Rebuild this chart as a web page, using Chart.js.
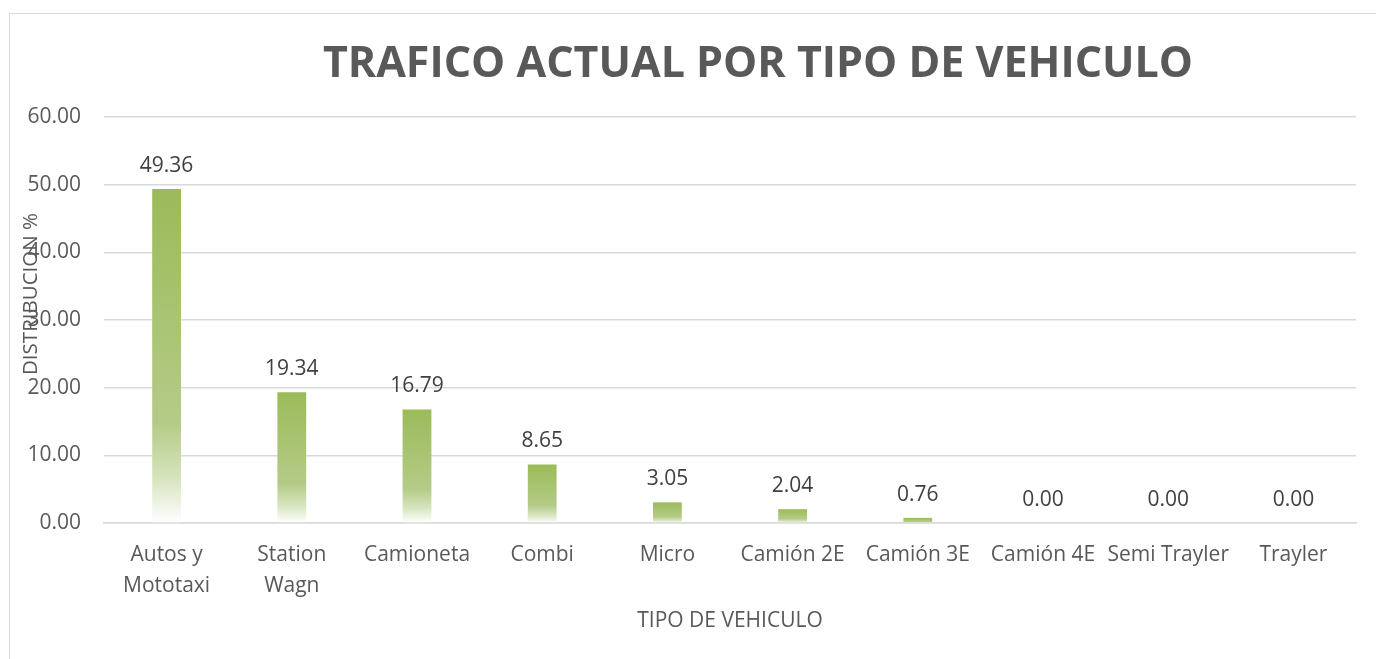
<!DOCTYPE html>
<html>
<head>
<meta charset="utf-8">
<script src="https://cdn.jsdelivr.net/npm/chart.js@4.4.1/dist/chart.umd.min.js"></script>
<style>
  html, body { margin: 0; padding: 0; background: #fff; overflow: hidden; }
  #wrap { position: relative; width: 1376px; height: 659px; }
  #frame { position: absolute; left: 9px; top: 13px; width: 1400px; height: 700px; border: 1px solid #d9d9d9; box-sizing: border-box; }
  #title { position: absolute; left: 758px; top: 33px; transform: translateX(-50%); white-space: nowrap;
           font-family: "Open Sans", sans-serif; font-weight: bold; font-size: 43px; line-height: 56px; color: #595959; }
  #ytitle { position: absolute; left: 29px; top: 294px; transform: translate(-50%, -50%) rotate(-90deg); white-space: nowrap;
            font-family: "Open Sans", sans-serif; font-size: 20.5px; color: #595959; }
  canvas { position: absolute; left: 0; top: 0; }
</style>
</head>
<body>
<div id="wrap">
  <div id="frame"></div>
  <canvas id="chart" width="1376" height="659"></canvas>
  <div id="title">TRAFICO ACTUAL POR TIPO DE VEHICULO</div>
  <div id="ytitle">DISTRIBUCION %</div>
</div>
<script>
// =================== DATA ===================
const categories = [["Autos y", "Mototaxi"], ["Station", "Wagn"], "Camioneta", "Combi", "Micro",
  "Camión 2E", "Camión 3E", "Camión 4E", "Semi Trayler", "Trayler"];
const distribution = [49.36, 19.34, 16.79, 8.65, 3.05, 2.04, 0.76, 0.00, 0.00, 0.00];
const yTicks = [0, 10, 20, 30, 40, 50, 60];

// =================== BAR GRADIENT ===================
function barFill(c) {
  const chart = c.chart;
  if (!chart.chartArea || c.type !== 'data') return '#9bbb59';
  const y = chart.scales.y;
  const top = y.getPixelForValue(c.raw);
  const bottom = y.getPixelForValue(0);
  if (bottom - top < 1) return '#9bbb59';
  const g = chart.ctx.createLinearGradient(0, top, 0, bottom);
  g.addColorStop(0, '#9bbb59');
  g.addColorStop(0.7, '#b4cb87');
  g.addColorStop(0.86, '#d5e3bc');
  g.addColorStop(1, '#ffffff');
  return g;
}

// =================== VALUE LABELS ===================
const valueLabels = {
  id: 'valueLabels',
  afterDatasetsDraw(chart) {
    const ctx = chart.ctx;
    const meta = chart.getDatasetMeta(0);
    ctx.save();
    ctx.font = '21px "Open Sans", sans-serif';
    ctx.fillStyle = '#404040';
    ctx.textAlign = 'center';
    ctx.textBaseline = 'alphabetic';
    meta.data.forEach((bar, i) => {
      ctx.fillText(distribution[i].toFixed(2), bar.x, bar.y - 17);
    });
    ctx.restore();
  }
};

// =================== CHART ===================
new Chart(document.getElementById('chart'), {
  type: 'bar',
  data: {
    labels: categories,
    datasets: [{
      label: 'DISTRIBUCION %',
      data: distribution,
      backgroundColor: barFill,
      barPercentage: 0.46,
      categoryPercentage: 0.5
    }]
  },
  options: {
    responsive: false,
    animation: false,
    layout: { padding: { left: 0, right: 20, top: 117, bottom: 0 } },
    plugins: {
      legend: { display: false },
      title: { display: false },
      tooltip: { enabled: false }
    },
    scales: {
      x: {
        grid: { display: false, drawTicks: false },
        border: { color: '#d9d9d9', width: 1.5 },
        ticks: {
          color: '#595959',
          padding: 17,
          maxRotation: 0,
          autoSkip: false,
          font: { family: 'Open Sans', size: 21, lineHeight: 1.45 }
        },
        title: {
          display: true,
          text: 'TIPO DE VEHICULO',
          color: '#595959',
          font: { family: 'Open Sans', size: 21 },
          padding: { top: 0, bottom: 25 }
        },
        afterFit(scale) { scale.height = 659 - 523; }
      },
      y: {
        min: 0,
        max: 60,
        afterBuildTicks(scale) { scale.ticks = yTicks.map(v => ({ value: v })); },
        grid: { color: '#d9d9d9', lineWidth: 1.5, drawTicks: false },
        border: { display: false },
        ticks: {
          color: '#595959',
          padding: 23,
          font: { family: 'Open Sans', size: 21 },
          callback: v => Number(v).toFixed(2)
        },
        afterFit(scale) { scale.width = 104; }
      }
    }
  },
  plugins: [valueLabels]
});
</script>
</body>
</html>
